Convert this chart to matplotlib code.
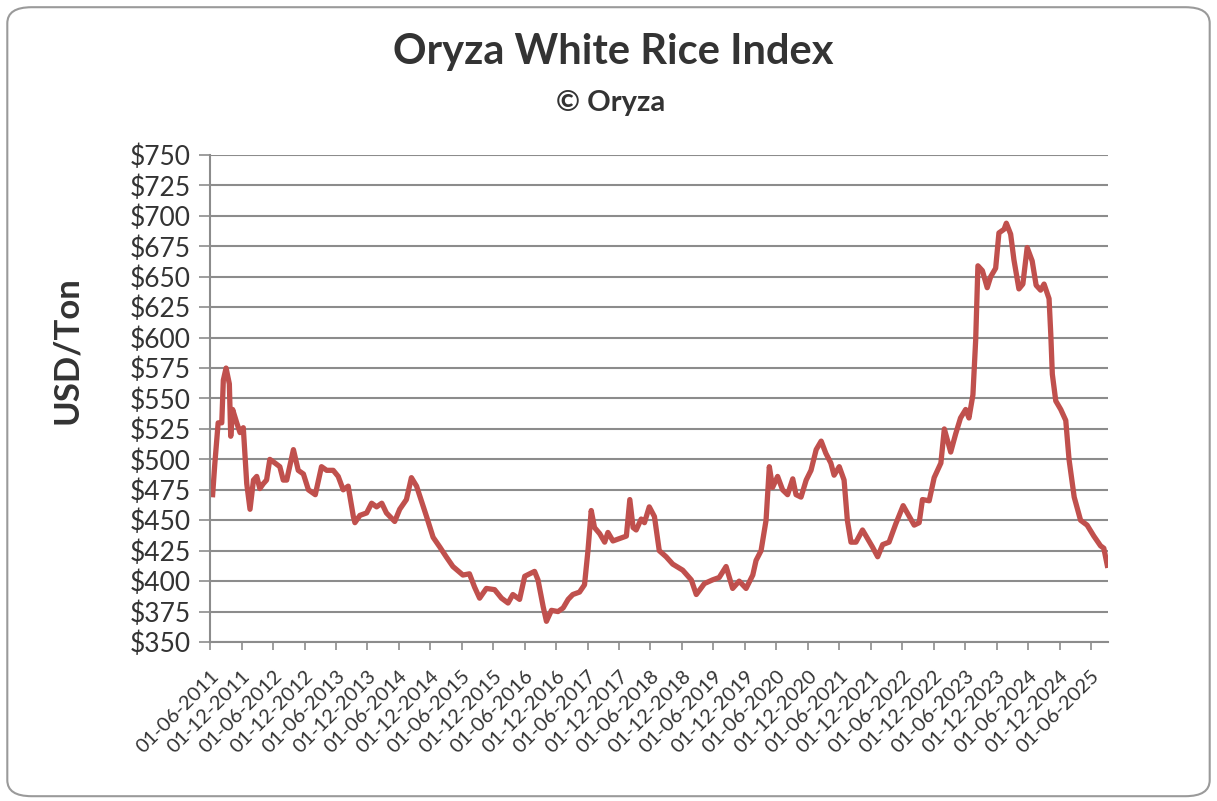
import pandas as pd
import matplotlib
matplotlib.use('Agg')
import matplotlib.pyplot as plt
import matplotlib.dates as mdates
from matplotlib.patches import FancyBboxPatch
from matplotlib.ticker import MultipleLocator, FuncFormatter

# index values (USD/ton)
dates = [
    '2011-06-16', '2011-06-29', '2011-07-18', '2011-08-08', '2011-08-17', '2011-09-02',
    '2011-09-21', '2011-09-29', '2011-10-10', '2011-11-03', '2011-11-22', '2011-12-11',
    '2011-12-31', '2012-01-19', '2012-02-08', '2012-02-27', '2012-03-16', '2012-04-05',
    '2012-04-24', '2012-05-13', '2012-06-12', '2012-07-10', '2012-07-30', '2012-08-19',
    '2012-09-27', '2012-10-25', '2012-11-24', '2012-12-23', '2013-02-01', '2013-03-09',
    '2013-04-08', '2013-05-16', '2013-06-14', '2013-07-13', '2013-08-11', '2013-09-10',
    '2013-09-19', '2013-10-18', '2013-11-26', '2013-12-25', '2014-01-23', '2014-02-22',
    '2014-03-21', '2014-05-08', '2014-06-06', '2014-07-15', '2014-08-13', '2014-09-12',
    '2014-11-09', '2014-12-17', '2015-01-25', '2015-03-03', '2015-04-11', '2015-06-08',
    '2015-07-16', '2015-08-15', '2015-09-13', '2015-10-22', '2015-12-09', '2016-01-18',
    '2016-02-25', '2016-03-24', '2016-05-02', '2016-06-01', '2016-06-29', '2016-07-28',
    '2016-08-17', '2016-09-16', '2016-10-05', '2016-11-03', '2016-12-11', '2017-01-10',
    '2017-02-08', '2017-03-07', '2017-04-15', '2017-05-14', '2017-06-03', '2017-06-22',
    '2017-07-11', '2017-08-10', '2017-09-08', '2017-09-27', '2017-10-26', '2017-12-04',
    '2018-01-12', '2018-02-01', '2018-02-20', '2018-03-10', '2018-04-08', '2018-04-27',
    '2018-05-25', '2018-06-24', '2018-07-22', '2018-08-31', '2018-10-08', '2018-12-05',
    '2019-01-24', '2019-02-22', '2019-04-10', '2019-05-27', '2019-07-05', '2019-08-14',
    '2019-09-21', '2019-10-29', '2019-12-08', '2020-01-16', '2020-02-04', '2020-03-04',
    '2020-04-02', '2020-04-21', '2020-05-10', '2020-06-08', '2020-07-07', '2020-08-05',
    '2020-09-04', '2020-09-23', '2020-10-22', '2020-11-21', '2020-12-19', '2021-01-18',
    '2021-02-16', '2021-03-15', '2021-04-13', '2021-05-02', '2021-06-01', '2021-06-29',
    '2021-07-18', '2021-08-08', '2021-09-06', '2021-10-14', '2021-11-12', '2021-12-11',
    '2022-01-10', '2022-02-08', '2022-03-17', '2022-04-25', '2022-06-07', '2022-07-01',
    '2022-08-10', '2022-09-08', '2022-09-27', '2022-11-05', '2022-12-04', '2023-01-12',
    '2023-02-01', '2023-03-10', '2023-04-08', '2023-05-06', '2023-06-05', '2023-06-24',
    '2023-07-17', '2023-08-02', '2023-08-15', '2023-09-10', '2023-10-08', '2023-10-28',
    '2023-11-26', '2023-12-15', '2024-01-14', '2024-01-27', '2024-02-21', '2024-03-11',
    '2024-04-09', '2024-05-02', '2024-05-27', '2024-06-25', '2024-07-18', '2024-08-13',
    '2024-09-02', '2024-10-01', '2024-10-11', '2024-10-20', '2024-11-09', '2024-12-08',
    '2025-01-06', '2025-01-25', '2025-02-24', '2025-04-02', '2025-05-10', '2025-06-18',
    '2025-07-27', '2025-08-15', '2025-09-04',
]
prices = [
    471, 497, 530, 530, 565, 575,
    562, 519, 541, 530, 522, 526,
    480, 459, 483, 486, 476, 480,
    483, 500, 497, 494, 483, 483,
    508, 491, 488, 475, 471, 494,
    491, 491, 486, 475, 478, 453,
    448, 454, 456, 464, 461, 464,
    456, 449, 459, 467, 485, 478,
    453, 436, 428, 420, 412, 405,
    406, 395, 386, 394, 393, 386,
    382, 389, 385, 404, 406, 408,
    401, 379, 367, 376, 375, 378,
    385, 389, 391, 397, 425, 458,
    444, 439, 432, 440, 433, 435,
    437, 467, 444, 442, 451, 448,
    461, 453, 425, 420, 414, 409,
    401, 389, 398, 401, 403, 412,
    394, 400, 394, 405, 417, 425,
    450, 494, 477, 486, 475, 471,
    484, 471, 469, 483, 491, 508,
    515, 505, 497, 487, 494, 483,
    450, 432, 432, 442, 435, 428,
    420, 430, 432, 447, 462, 456,
    446, 448, 467, 466, 485, 497,
    525, 506, 521, 534, 541, 534,
    553, 598, 659, 655, 641, 650,
    657, 686, 689, 694, 685, 664,
    640, 644, 674, 663, 643, 639,
    644, 632, 603, 570, 548, 541,
    532, 500, 469, 450, 446, 437,
    429, 427, 413,
]

df = pd.DataFrame({'date': pd.to_datetime(dates), 'price': prices})

tick_dates = pd.date_range('2011-06-01', '2025-06-01', freq='6MS')
tick_dates = [d for d in tick_dates if d.month in (6, 12)]

plt.rcParams['font.family'] = ['Lato', 'DejaVu Sans']
text_color = '#333333'
grid_color = '#8c8c8c'

fig = plt.figure(figsize=(12.17, 8.01), dpi=100)
fig.patch.set_facecolor('white')

# rounded chart border
border = FancyBboxPatch((0.006, 0.006), 0.988, 0.985,
                        boxstyle='round,pad=0,rounding_size=0.02',
                        transform=fig.transFigure, facecolor='none',
                        edgecolor='#9a9a9a', linewidth=1.5, zorder=-1)
fig.patches.append(border)

ax = fig.add_axes([0.1726, 0.1985, 0.7378, 0.608])
ax.set_facecolor('none')

ax.plot(df['date'], df['price'], color='#C0504D', linewidth=3.8, solid_joinstyle='round')

ax.set_ylim(350, 750)
ax.yaxis.set_major_locator(MultipleLocator(25))
ax.yaxis.set_major_formatter(FuncFormatter(lambda v, p: f'${v:.0f}'))
ax.set_xlim(pd.Timestamp('2011-06-01'), pd.Timestamp('2025-09-08'))
ax.set_xticks(tick_dates)
ax.xaxis.set_major_formatter(mdates.DateFormatter('%d-%m-%Y'))

ax.grid(axis='y', color=grid_color, linewidth=1.5)
ax.set_axisbelow(True)
for s in ['top', 'right']:
    ax.spines[s].set_visible(False)
for s in ['left', 'bottom']:
    ax.spines[s].set_color(grid_color)
    ax.spines[s].set_linewidth(1.5)

ax.tick_params(axis='y', labelsize=19, colors=grid_color, labelcolor=text_color,
               length=8, width=1.2, pad=6)
ax.tick_params(axis='x', labelsize=14.5, colors=grid_color, labelcolor=text_color,
               length=6, width=1.2, pad=12)
for lbl in ax.get_xticklabels():
    lbl.set_rotation(45)
    lbl.set_ha('right')
    lbl.set_rotation_mode('anchor')

ax.set_ylabel('USD/Ton', fontsize=25, fontweight='bold', color=text_color)
ax.yaxis.set_label_coords(-0.142, 0.6)

fig.text(0.504, 0.935, 'Oryza White Rice Index', ha='center', va='center',
         fontsize=30, fontweight='bold', color=text_color)
fig.text(0.502, 0.872, '© Oryza', ha='center', va='center',
         fontsize=21, fontweight='bold', color=text_color)

fig.savefig('out.png', dpi=100)
